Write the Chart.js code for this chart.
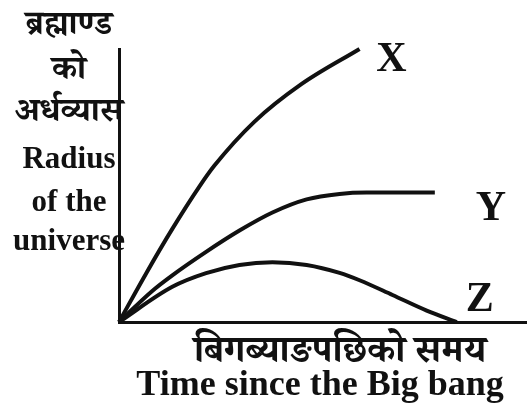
<!DOCTYPE html>
<html>
<head>
<meta charset="utf-8">
<script src="https://cdn.jsdelivr.net/npm/chart.js@4"></script>
<style>
  body { margin: 0; background: #fff; }
</style>
</head>
<body>
<canvas id="myCanvas" width="531" height="405"></canvas>
<script>
// time since big bang (arbitrary units) and radius for each model
var timeX = [0, 0.67, 1.31, 1.97, 2.34, 3.33, 4.48, 5.91];
var radiusX = [0, 1.79, 3.41, 4.95, 5.72, 7.34, 8.71, 10];

var timeY = [0, 0.81, 1.31, 2.14, 2.96, 3.77, 4.61, 5.42, 6.08, 7.76];
var radiusY = [0, 1.13, 1.71, 2.57, 3.35, 4.01, 4.49, 4.69, 4.74, 4.74];

var timeZ = [0, 1.31, 2.14, 2.96, 3.77, 4.61, 5.42, 5.91, 6.72, 7.56, 8.30];
var radiusZ = [0, 1.29, 1.79, 2.09, 2.19, 2.09, 1.80, 1.53, 0.99, 0.42, 0];

var curveNames = ['X', 'Y', 'Z'];

var yTitle = ['ब्रह्माण्ड', 'को', 'अर्धव्यास', 'Radius', 'of the', 'universe'];
var xTitle = ['बिगब्याङपछिको समय', 'Time since the Big bang'];

function toPoints(xs, ys) {
  return xs.map(function(x, i) { return { x: x, y: ys[i] }; });
}

var serif = "'Liberation Serif', 'Noto Serif Devanagari', 'Noto Sans Devanagari', serif";

// curve end labels + axis titles drawn flat, like the printed figure
var textPlugin = {
  id: 'figureText',
  afterDraw: function(chart) {
    var c = chart.ctx;
    var xs = chart.scales.x, ys = chart.scales.y;
    c.save();
    c.fillStyle = '#111';
    c.textAlign = 'center';
    c.textBaseline = 'middle';

    // X / Y / Z next to the end of each line
    var offsets = [[32, 11], [56, 17], [23, -22]];
    c.font = 'bold 42px ' + serif;
    chart.data.datasets.forEach(function(ds, i) {
      var last = ds.data[ds.data.length - 1];
      c.fillText(curveNames[i], xs.getPixelForValue(last.x) + offsets[i][0],
        ys.getPixelForValue(last.y) + offsets[i][1]);
    });

    c.textBaseline = 'alphabetic';
    var yLines = [[34, 'bold 34px'], [79, 'bold 34px'], [121, 'bold 34px'],
      [168, 'bold 31px'], [211, 'bold 31px'], [250, 'bold 31px']];
    yTitle.forEach(function(t, i) {
      c.font = yLines[i][1] + ' ' + serif;
      c.fillText(t, 69, yLines[i][0]);
    });

    c.font = 'bold 38px ' + serif;
    c.fillText(xTitle[0], 340, 362);
    c.font = 'bold 36px ' + serif;
    c.fillText(xTitle[1], 320, 395);
    c.restore();
  }
};

var lineStyle = {
  borderColor: '#111',
  borderWidth: 4,
  pointRadius: 0,
  fill: false,
  cubicInterpolationMode: 'monotone'
};

var data = {
  datasets: [
    Object.assign({ label: curveNames[0], data: toPoints(timeX, radiusX) }, lineStyle),
    Object.assign({ label: curveNames[1], data: toPoints(timeY, radiusY) }, lineStyle),
    Object.assign({ label: curveNames[2], data: toPoints(timeZ, radiusZ) }, lineStyle)
  ]
};

var options = {
  responsive: false,
  animation: false,
  clip: false,
  layout: {
    padding: { left: 111, top: 49, right: 5, bottom: 75 }
  },
  plugins: {
    legend: { display: false },
    tooltip: { enabled: false }
  },
  scales: {
    x: {
      type: 'linear',
      min: 0,
      max: 10,
      ticks: { display: false },
      grid: { display: false },
      border: { display: true, color: '#111', width: 3 }
    },
    y: {
      type: 'linear',
      min: 0,
      max: 10,
      ticks: { display: false },
      grid: { display: false },
      border: { display: true, color: '#111', width: 3 }
    }
  }
};

var chart = new Chart(document.getElementById('myCanvas'), {
  type: 'line',
  data: data,
  options: options,
  plugins: [textPlugin]
});
</script>
</body>
</html>
